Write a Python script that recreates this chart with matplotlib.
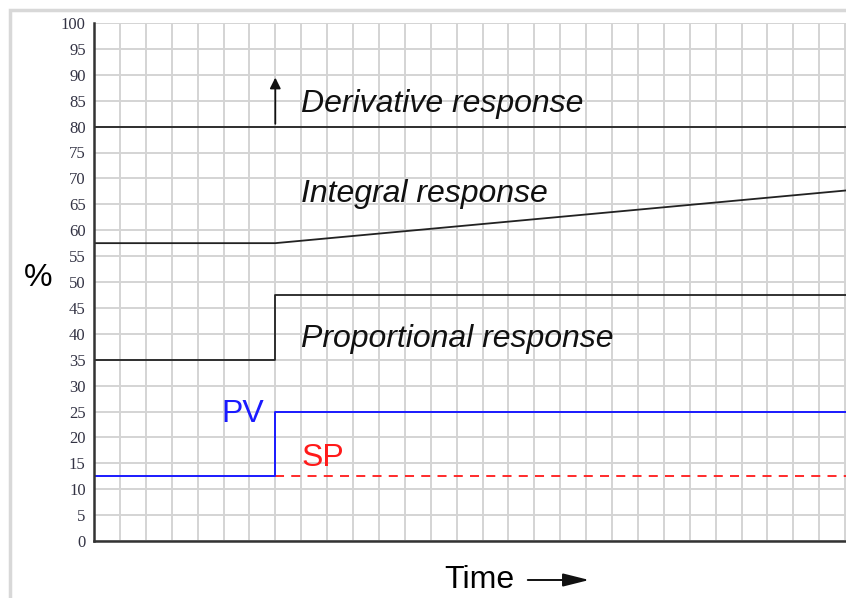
import matplotlib
matplotlib.use("Agg")
import matplotlib.pyplot as plt
from matplotlib.patches import Rectangle, FancyArrowPatch

# time axis in grid cells; the step happens at cell 7
t_end = 29.1
step_x = [0, 7, 7, t_end]
flat_x = [0, t_end]
ramp_x = [0, 7, t_end]
sp_x = [7, t_end]

derivative_y = [80, 80]
derivative_kick = [80, 90]
integral_y = [57.5, 57.5, 67.7]
proportional_y = [35, 35, 47.5, 47.5]
pv_y = [12.5, 12.5, 25, 25]
sp_y = [12.5, 12.5]

y_ticks = list(range(0, 101, 5))

fig = plt.figure(figsize=(8.46, 5.98), dpi=100)
ax = fig.add_axes([94 / 846, 1 - 541 / 598, 1 - 94 / 846 + 0.002, (541 - 23) / 598])

# light frame of the screenshot
fig.patches.append(Rectangle((10 / 846, -0.01), 1.1, 1 - 10 / 598 + 0.01, transform=fig.transFigure,
                             fill=False, edgecolor="#d8d8d8", linewidth=2.5, zorder=0))

ax.set_xlim(0, t_end)
ax.set_ylim(0, 100)
ax.set_xticks(range(0, 30))
ax.set_yticks(y_ticks)
ax.set_xticklabels([])
ax.set_yticklabels([str(v) for v in y_ticks], fontfamily="Liberation Serif", fontsize=12, color="#333344")
ax.tick_params(length=0, pad=6)
ax.grid(True, color="#d4d4d4", linewidth=1.4)
ax.set_axisbelow(True)
for side in ("top", "right"):
    ax.spines[side].set_visible(False)
for side in ("left", "bottom"):
    ax.spines[side].set_linewidth(1.8)
    ax.spines[side].set_color("#333333")

ax.plot(flat_x, derivative_y, color="#222222", linewidth=1.3)
ax.annotate("", xy=(7, derivative_kick[1]), xytext=(7, derivative_kick[0]),
            arrowprops=dict(arrowstyle="-|>", color="#111111", linewidth=1.3, mutation_scale=16))
ax.plot(ramp_x, integral_y, color="#222222", linewidth=1.3)
ax.plot(step_x, proportional_y, color="#222222", linewidth=1.3)
ax.plot(sp_x, sp_y, color="#ff1a1a", linewidth=1.3, linestyle=(0, (5, 4)))
ax.plot(step_x, pv_y, color="#1a1aff", linewidth=1.4)

big = dict(fontfamily="Liberation Sans", fontsize=23, style="italic", color="#111111")
ax.text(8, 84.4, "Derivative response", va="center", **big)
ax.text(8, 67, "Integral response", va="center", **big)
ax.text(8, 39, "Proportional response", va="center", **big)
ax.text(6.55, 24.5, "PV", va="center", ha="right", fontfamily="Liberation Sans", fontsize=23, color="#1a1aff")
ax.text(8, 16, "SP", va="center", fontfamily="Liberation Sans", fontsize=23, color="#ff1a1a")

fig.text(38 / 846, 1 - 278 / 598, "%", ha="center", va="center", fontfamily="Liberation Sans", fontsize=23)
fig.text(444 / 846, 1 - 580 / 598, "Time", ha="left", va="center", fontfamily="Liberation Sans", fontsize=23)
fig.patches.append(FancyArrowPatch((525 / 846, 1 - 580 / 598), (592 / 846, 1 - 580 / 598),
                                   transform=fig.transFigure,
                                   arrowstyle="-|>,head_length=0.8,head_width=0.2",
                                   mutation_scale=20, color="#111111", linewidth=1.4))

fig.savefig("out.png", dpi=100)
